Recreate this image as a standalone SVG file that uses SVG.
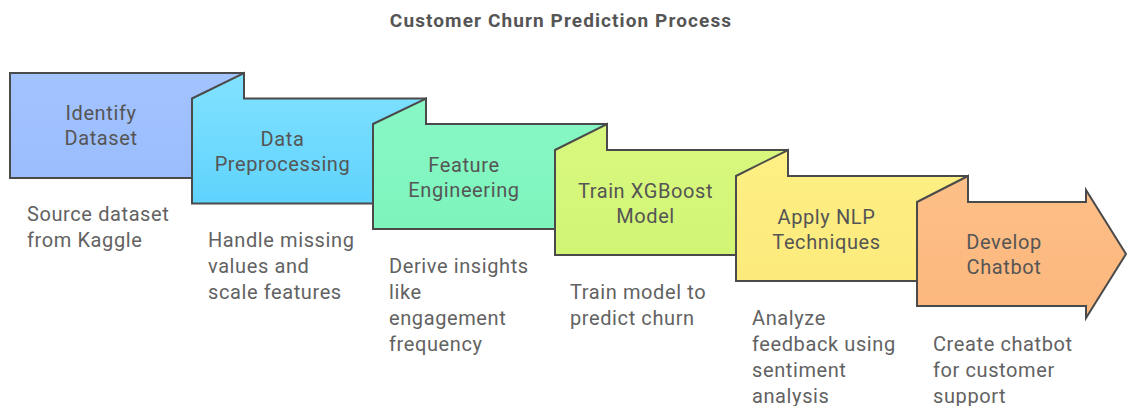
<svg xmlns="http://www.w3.org/2000/svg" width="1128" height="406" viewBox="0 0 1128 406">
  <defs>
    <linearGradient id="g1" x1="0" y1="0" x2="0" y2="1"><stop offset="0" stop-color="#a3c3ff"/><stop offset="1" stop-color="#9bbdfd"/></linearGradient>
    <linearGradient id="g2" x1="0" y1="0" x2="0" y2="1"><stop offset="0" stop-color="#82e2ff"/><stop offset="1" stop-color="#5fd3fd"/></linearGradient>
    <linearGradient id="g3" x1="0" y1="0" x2="0" y2="1"><stop offset="0" stop-color="#88f8c6"/><stop offset="1" stop-color="#7ef4bc"/></linearGradient>
    <linearGradient id="g4" x1="0" y1="0" x2="0" y2="1"><stop offset="0" stop-color="#d8f87e"/><stop offset="1" stop-color="#d2f576"/></linearGradient>
    <linearGradient id="g5" x1="0" y1="0" x2="0" y2="1"><stop offset="0" stop-color="#fef084"/><stop offset="1" stop-color="#fcea7c"/></linearGradient>
    <linearGradient id="g6" x1="0" y1="0" x2="0" y2="1"><stop offset="0" stop-color="#fec088"/><stop offset="1" stop-color="#fbb67c"/></linearGradient>
  </defs>
  <style>
    .box { stroke: #4a4a4a; stroke-width: 2; stroke-linejoin: miter; }
    .label { font-family: Roboto, "Liberation Sans", sans-serif; font-size: 20px; letter-spacing: 0.6px; fill: #555555; text-anchor: middle; }
    .desc { font-family: Roboto, "Liberation Sans", sans-serif; font-size: 20px; letter-spacing: 0.6px; fill: #626262; }
    .title { font-family: Roboto, "Liberation Sans", sans-serif; font-size: 19px; letter-spacing: 1.1px; font-weight: bold; fill: #555555; text-anchor: middle; }
  </style>

  <text class="title" x="561" y="27">Customer Churn Prediction Process</text>

  <!-- step 1 -->
  <g id="identify-dataset">
    <path class="box" fill="url(#g1)" d="M10,73 L244,73 L244,178 L10,178 Z"/>
    <text class="label" x="101" y="120">Identify</text>
    <text class="label" x="101" y="145">Dataset</text>
    <text class="desc" x="27" y="221">Source dataset</text>
    <text class="desc" x="27" y="247">from Kaggle</text>
  </g>

  <!-- step 2: flap folds up against the previous card -->
  <g id="data-preprocessing">
    <path class="box" fill="url(#g2)" d="M192,98.5 L244,73 L244,98.5 L426,98.5 L426,203.5 L192,203.5 Z"/>
    <text class="label" x="282.5" y="146">Data</text>
    <text class="label" x="282.5" y="171">Preprocessing</text>
    <text class="desc" x="208" y="247">Handle missing</text>
    <text class="desc" x="208" y="273">values and</text>
    <text class="desc" x="208" y="299">scale features</text>
  </g>

  <!-- step 3 -->
  <g id="feature-engineering">
    <path class="box" fill="url(#g3)" d="M373,124 L426,98.5 L426,124 L607,124 L607,229 L373,229 Z"/>
    <text class="label" x="464" y="171.5">Feature</text>
    <text class="label" x="464" y="196.5">Engineering</text>
    <text class="desc" x="389" y="273">Derive insights</text>
    <text class="desc" x="389" y="299">like</text>
    <text class="desc" x="389" y="325">engagement</text>
    <text class="desc" x="389" y="351">frequency</text>
  </g>

  <!-- step 4 -->
  <g id="train-xgboost">
    <path class="box" fill="url(#g4)" d="M555,150 L607,124 L607,150 L788,150 L788,255 L555,255 Z"/>
    <text class="label" x="645.5" y="197.5">Train XGBoost</text>
    <text class="label" x="645.5" y="222.5">Model</text>
    <text class="desc" x="570" y="299">Train model to</text>
    <text class="desc" x="570" y="325">predict churn</text>
  </g>

  <!-- step 5 -->
  <g id="apply-nlp">
    <path class="box" fill="url(#g5)" d="M736,176 L788,150 L788,176 L968,176 L968,281 L736,281 Z"/>
    <text class="label" x="826.5" y="223.5">Apply NLP</text>
    <text class="label" x="826.5" y="248.5">Techniques</text>
    <text class="desc" x="752" y="325">Analyze</text>
    <text class="desc" x="752" y="351">feedback using</text>
    <text class="desc" x="752" y="377">sentiment</text>
    <text class="desc" x="752" y="403">analysis</text>
  </g>

  <!-- step 6: final card ends in an arrow head -->
  <g id="develop-chatbot">
    <path class="box" fill="url(#g6)" d="M917,202 L968,176 L968,202 L1086,202 L1086,190 L1126,254 L1086,318 L1086,306 L917,306 Z"/>
    <text class="label" x="1004" y="249">Develop</text>
    <text class="label" x="1004" y="274">Chatbot</text>
    <text class="desc" x="933" y="351">Create chatbot</text>
    <text class="desc" x="933" y="377">for customer</text>
    <text class="desc" x="933" y="403">support</text>
  </g>

  <g id="connectors"></g>
</svg>
